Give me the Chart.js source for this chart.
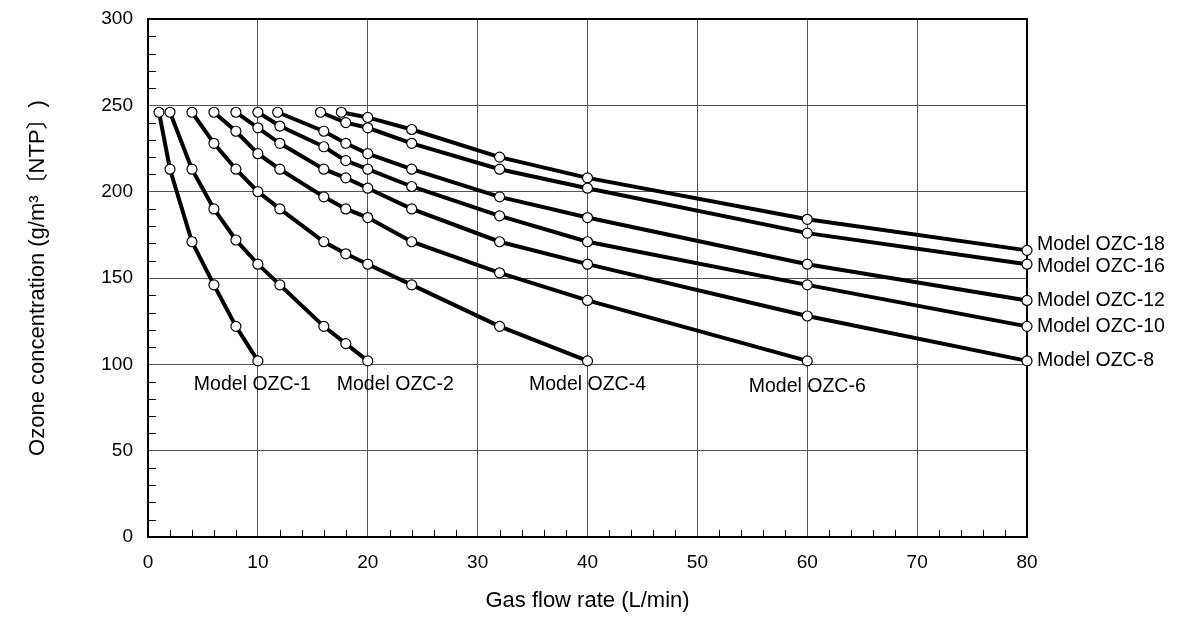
<!DOCTYPE html>
<html>
<head>
<meta charset="utf-8">
<script src="https://cdn.jsdelivr.net/npm/chart.js@4.4.0/dist/chart.umd.min.js"></script>
<style>
  html, body { margin: 0; padding: 0; background: #fff; }
  #wrap { width: 1192px; height: 618px; }
</style>
</head>
<body>
<div id="wrap"><canvas id="chart" width="1192" height="618"></canvas></div>
<script>
// Values
const modelNames = ["Model OZC-1", "Model OZC-2", "Model OZC-4", "Model OZC-6", "Model OZC-8",
                    "Model OZC-10", "Model OZC-12", "Model OZC-16", "Model OZC-18"];

const flowOzc1 = [1, 2, 4, 6, 8, 10];
const ozoneOzc1 = [246, 213, 171, 146, 122, 102];

const flowOzc2 = [2, 4, 6, 8, 10, 12, 16, 18, 20];
const ozoneOzc2 = [246, 213, 190, 172, 158, 146, 122, 112, 102];

const flowOzc4 = [4, 6, 8, 10, 12, 16, 18, 20, 24, 32, 40];
const ozoneOzc4 = [246, 228, 213, 200, 190, 171, 164, 158, 146, 122, 102];

const flowOzc6 = [6, 8, 10, 12, 16, 18, 20, 24, 32, 40, 60];
const ozoneOzc6 = [246, 235, 222, 213, 197, 190, 185, 171, 153, 137, 102];

const flowOzc8 = [8, 10, 12, 16, 18, 20, 24, 32, 40, 60, 80];
const ozoneOzc8 = [246, 237, 228, 213, 208, 202, 190, 171, 158, 128, 102];

const flowOzc10 = [10, 12, 16, 18, 20, 24, 32, 40, 60, 80];
const ozoneOzc10 = [246, 238, 226, 218, 213, 203, 186, 171, 146, 122];

const flowOzc12 = [11.8, 16, 18, 20, 24, 32, 40, 60, 80];
const ozoneOzc12 = [246, 235, 228, 222, 213, 197, 185, 158, 137];

const flowOzc16 = [15.7, 18, 20, 24, 32, 40, 60, 80];
const ozoneOzc16 = [246, 240, 237, 228, 213, 202, 176, 158];

const flowOzc18 = [17.6, 20, 24, 32, 40, 60, 80];
const ozoneOzc18 = [246, 243, 236, 220, 208, 184, 166];

const flows = [flowOzc1, flowOzc2, flowOzc4, flowOzc6, flowOzc8, flowOzc10, flowOzc12, flowOzc16, flowOzc18];
const ozones = [ozoneOzc1, ozoneOzc2, ozoneOzc4, ozoneOzc6, ozoneOzc8, ozoneOzc10, ozoneOzc12, ozoneOzc16, ozoneOzc18];

// where each model's name sits (data units)
const labelFlow = [9.5, 22.5, 40, 60, 80, 80, 80, 80, 80];
const labelOzone = [88, 88, 88, 87, 102, 122, 137, 156.5, 169.5];

const xTicks = [0, 10, 20, 30, 40, 50, 60, 70, 80];
const yTicks = [0, 50, 100, 150, 200, 250, 300];

const FONT = "'Liberation Sans', Arial, 'Noto Sans CJK JP', sans-serif";

const datasets = flows.map((xs, i) => ({
  label: modelNames[i],
  data: xs.map((x, j) => ({ x, y: ozones[i][j] })),
  showLine: true,
  borderColor: "#000",
  borderWidth: 4,
  pointRadius: 5,
  pointBorderWidth: 1.2,
  pointBackgroundColor: "#fff",
  pointBorderColor: "#000",
  clip: false
}));

const decorPlugin = {
  id: "decor",
  beforeDatasetsDraw(chart) {
    const { ctx, chartArea: a, scales: { x, y } } = chart;
    ctx.save();
    ctx.strokeStyle = "#000";
    ctx.lineWidth = 1;
    ctx.beginPath();
    // minor ticks on the inside
    for (let v = 2; v < 80; v += 2) {
      if (v % 10 === 0) continue;
      const px = Math.round(x.getPixelForValue(v)) + 0.5;
      ctx.moveTo(px, a.bottom);
      ctx.lineTo(px, a.bottom - 7);
    }
    for (let v = 10; v < 300; v += 10) {
      if (v % 50 === 0) continue;
      const py = Math.round(y.getPixelForValue(v)) + 0.5;
      ctx.moveTo(a.left, py);
      ctx.lineTo(a.left + 8, py);
    }
    ctx.stroke();
    ctx.lineWidth = 2;
    ctx.strokeRect(a.left, a.top, a.right - a.left, a.bottom - a.top);
    ctx.restore();
  },
  afterDatasetsDraw(chart) {
    const { ctx, scales: { x, y } } = chart;
    ctx.save();
    ctx.fillStyle = "#000";
    ctx.font = "19.5px " + FONT;
    ctx.textBaseline = "middle";
    modelNames.forEach((name, i) => {
      const px = x.getPixelForValue(labelFlow[i]);
      const py = y.getPixelForValue(labelOzone[i]);
      if (labelFlow[i] >= 80) {
        ctx.textAlign = "left";
        ctx.fillText(name, px + 10, py);
      } else {
        ctx.textAlign = "center";
        ctx.fillText(name, px, py);
      }
    });
    ctx.restore();
  }
};

new Chart(document.getElementById("chart"), {
  type: "scatter",
  data: { datasets },
  options: {
    responsive: false,
    animation: false,
    layout: { padding: { left: 0, right: 165, top: 19, bottom: 0 } },
    plugins: { legend: { display: false }, tooltip: { enabled: false } },
    scales: {
      x: {
        type: "linear",
        min: 0,
        max: 80,
        afterBuildTicks: (scale) => { scale.ticks = xTicks.map(v => ({ value: v })); },
        afterFit: (scale) => { scale.height = 81; },
        grid: { color: "#555", lineWidth: 1, drawTicks: false },
        border: { display: false },
        ticks: { color: "#000", padding: 14, font: { family: FONT, size: 19 }, maxRotation: 0 },
        title: {
          display: true,
          text: "Gas flow rate (L/min)",
          color: "#000",
          font: { family: FONT, size: 22 },
          padding: { top: 0, bottom: 4 }
        }
      },
      y: {
        type: "linear",
        min: 0,
        max: 300,
        afterBuildTicks: (scale) => { scale.ticks = yTicks.map(v => ({ value: v })); },
        afterFit: (scale) => {
          scale.width = 148;
          // keep the tick-label padding from pushing the plot down
          scale.paddingTop = 0;
          scale.paddingBottom = 0;
        },
        grid: { color: "#555", lineWidth: 1, drawTicks: false },
        border: { display: false },
        ticks: { color: "#000", padding: 15, font: { family: FONT, size: 19 } },
        title: {
          display: true,
          text: "Ozone concentration (g/m³〔NTP〕)",
          color: "#000",
          font: { family: FONT, size: 22 },
          padding: { top: 25, bottom: 0 }
        }
      }
    }
  },
  plugins: [decorPlugin]
});
</script>
</body>
</html>
